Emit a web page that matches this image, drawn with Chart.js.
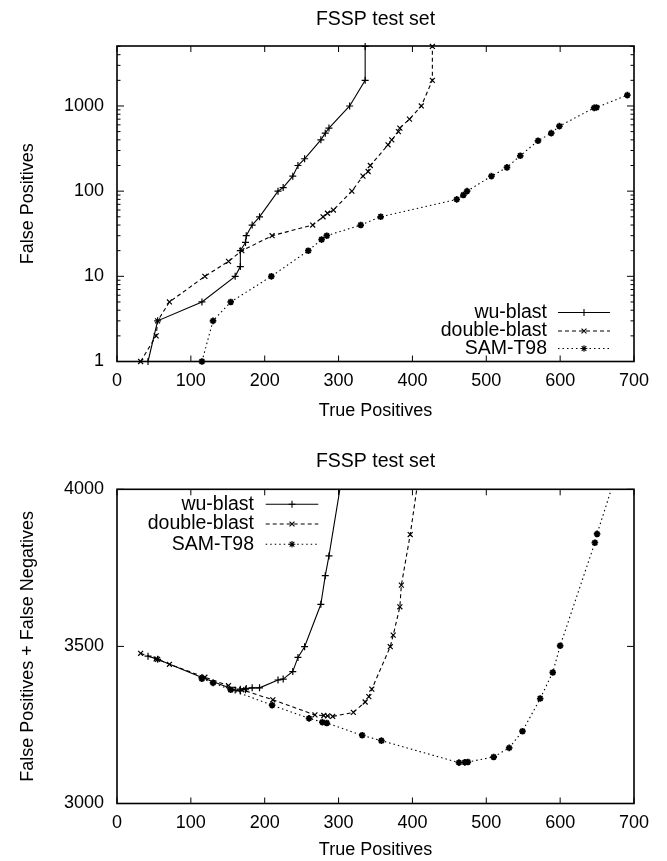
<!DOCTYPE html>
<html>
<head>
<meta charset="utf-8">
<script src="https://cdn.jsdelivr.net/npm/chart.js@4.4.0/dist/chart.umd.min.js"></script>
<style>
    html, body { margin: 0; padding: 0; background: #fff; }
    canvas { display: block; }
</style>
</head>
<body>
<canvas id="c-fp" width="667" height="430"></canvas>
<canvas id="c-err" width="667" height="431"></canvas>
<script>
/* ── Data: top panel (false positives, log scale) ── */
const wuTP  = [42, 55, 115, 160, 167, 167, 174, 175, 183, 193, 218, 225, 238, 245, 254, 276, 282, 287, 315, 336, 336];
const wuFP  = [1, 3, 5, 10, 13, 20, 25, 30, 40, 50, 100, 110, 150, 200, 240, 400, 480, 550, 1000, 2000, 5000];

const dbTP  = [32, 53, 55, 71, 119, 151, 169, 210, 265, 279, 285, 293, 318, 333, 340, 343, 367, 372, 381, 383, 396, 412, 427, 427];
const dbFP  = [1, 2, 3, 5, 10, 15, 20, 30, 40, 50, 55, 60, 100, 150, 170, 200, 350, 400, 500, 550, 700, 1000, 2000, 5000];

const samTP = [115, 130, 154, 209, 259, 277, 284, 330, 357, 460, 469, 474, 507, 528, 546, 570, 588, 599, 646, 649, 691];
const samFP = [1, 3, 5, 10, 20, 27, 30, 40, 50, 80, 90, 100, 150, 190, 260, 390, 480, 580, 950, 960, 1340];

/* ── Data: bottom panel (false positives + false negatives) ── */
const wuTP2  = [42, 55, 115, 160, 167, 167, 174, 175, 183, 193, 218, 225, 238, 245, 254, 276, 282, 287, 315];
const wuErr  = [3469, 3459, 3401, 3361, 3358, 3364, 3362, 3366, 3368, 3368, 3393, 3396, 3420, 3465, 3499, 3634, 3725, 3788, 4190];

const dbTP2  = [32, 53, 55, 71, 119, 151, 169, 211, 268, 280, 285, 292, 320, 336, 341, 345, 370, 374, 383, 385, 397, 412];
const dbErr  = [3478, 3460, 3459, 3443, 3402, 3375, 3362, 3330, 3282, 3280, 3279, 3277, 3290, 3323, 3340, 3364, 3499, 3536, 3626, 3695, 3856, 4100];

const samTP2 = [115, 130, 154, 210, 260, 278, 284, 332, 358, 463, 471, 475, 510, 531, 549, 573, 590, 600, 647, 650, 691];
const samErr = [3397, 3384, 3362, 3313, 3271, 3259, 3256, 3217, 3200, 3130, 3131, 3132, 3148, 3177, 3230, 3334, 3417, 3502, 3830, 3858, 4160];

const seriesNames = ['wu-blast', 'double-blast', 'SAM-T98'];
const yLabelsTop  = [1, 10, 100, 1000];
const yLabelsBot  = [3000, 3500, 4000];

/* ── Style ── */
const FONT = '"Liberation Sans", Arial, Helvetica, sans-serif';
Chart.defaults.font.family = FONT;
Chart.defaults.font.size = 18;
Chart.defaults.color = '#000';

const STYLE = [
    { borderDash: [],       pointStyle: 'cross',    pointRadius: 3.5, pointBorderWidth: 1.2 },
    { borderDash: [4, 3],   pointStyle: 'crossRot', pointRadius: 3.5, pointBorderWidth: 1.2 },
    { borderDash: [1.5, 3], pointStyle: 'star',     pointRadius: 3.3, pointBorderWidth: 1.8 }
];

function pts(xs, ys) {
    return xs.map((x, i) => ({ x, y: ys[i] }));
}

function makeSets(list, clip) {
    return list.map((data, i) => ({
        label: seriesNames[i],
        data,
        borderColor: '#000',
        backgroundColor: '#000',
        pointBorderColor: '#000',
        pointBackgroundColor: '#000',
        borderWidth: 1.1,
        tension: 0,
        fill: false,
        clip,
        ...STYLE[i]
    }));
}

function isLogMinor(v) {
    const m = v / Math.pow(10, Math.floor(Math.log10(v) + 1e-9));
    return Math.abs(m - Math.round(m)) < 1e-6;
}

/* ── gnuplot-like frame with inward ticks on all four sides ── */
const gnuFrame = {
    id: 'gnuFrame',
    beforeDatasetsDraw(chart) {
        const { ctx, chartArea: a, scales: { x, y } } = chart;
        ctx.save();
        ctx.strokeStyle = '#000';
        ctx.lineWidth = 1;
        ctx.beginPath();
        x.ticks.forEach(t => {
            const px = x.getPixelForValue(t.value);
            ctx.moveTo(px, a.bottom); ctx.lineTo(px, a.bottom - 6);
            ctx.moveTo(px, a.top);    ctx.lineTo(px, a.top + 6);
        });
        const log = y.type === 'logarithmic';
        y.ticks.forEach(t => {
            if (log && !isLogMinor(t.value)) return;
            const major = !log || yLabelsTop.includes(t.value);
            const len = major ? 7 : 3.5;
            const py = y.getPixelForValue(t.value);
            ctx.moveTo(a.left, py);  ctx.lineTo(a.left + len, py);
            ctx.moveTo(a.right, py); ctx.lineTo(a.right - len, py);
        });
        ctx.stroke();
        ctx.lineWidth = 1.6;
        ctx.strokeRect(a.left, a.top, a.width, a.height);
        ctx.restore();
    }
};

/* ── gnuplot-like key: right-aligned text, sample line to its right ── */
function gnuKey(cfg) {
    return {
        id: 'gnuKey',
        afterDatasetsDraw(chart) {
            const { ctx, chartArea: a } = chart;
            const bx = cfg.fromRight ? a.right : a.left;
            const by = cfg.fromBottom ? a.bottom : a.top;
            ctx.save();
            ctx.font = '19.5px ' + FONT;
            ctx.fillStyle = '#000';
            ctx.strokeStyle = '#000';
            ctx.textAlign = 'right';
            ctx.textBaseline = 'middle';
            chart.data.datasets.forEach((ds, i) => {
                const yy = by + cfg.rows[i];
                ctx.fillText(ds.label, bx + cfg.text, yy);
                ctx.lineWidth = ds.borderWidth;
                ctx.setLineDash(ds.borderDash);
                ctx.beginPath();
                ctx.moveTo(bx + cfg.from, yy);
                ctx.lineTo(bx + cfg.to, yy);
                ctx.stroke();
                ctx.setLineDash([]);
                Chart.helpers.drawPoint(ctx, {
                    pointStyle: ds.pointStyle,
                    radius: ds.pointRadius,
                    borderWidth: ds.pointBorderWidth,
                    rotation: 0
                }, bx + (cfg.from + cfg.to) / 2, yy);
            });
            ctx.restore();
        }
    };
}

function axes(yOpts, yTitle, xHeight) {
    return {
        x: {
            type: 'linear', min: 0, max: 700,
            ticks: { stepSize: 100, padding: 9, callback: v => String(v) },
            grid: { display: false, drawTicks: false },
            border: { display: false },
            title: { display: true, text: 'True Positives', padding: { top: 0, bottom: 0 } },
            afterFit: s => { s.height = xHeight; }
        },
        y: Object.assign({
            grid: { display: false, drawTicks: false },
            border: { display: false },
            title: { display: true, text: yTitle, padding: { top: 17, bottom: 0 } },
            afterFit: s => { s.width = 117; }
        }, yOpts)
    };
}

function titleOpts(top, bottom) {
    return {
        display: true, text: 'FSSP test set', fullSize: false,
        font: { size: 19.5, weight: 'normal' }, color: '#000',
        padding: { top, bottom }
    };
}

/* ── Top: false positives ── */
new Chart(document.getElementById('c-fp'), {
    type: 'line',
    data: { datasets: makeSets([pts(wuTP, wuFP), pts(dbTP, dbFP), pts(samTP, samFP)], false) },
    options: {
        responsive: false,
        animation: false,
        layout: { padding: { left: 0, right: 33, top: 0, bottom: 8.5 } },
        plugins: {
            legend: { display: false },
            tooltip: { enabled: false },
            title: titleOpts(8.3, 14.3)
        },
        scales: axes({
            type: 'logarithmic', min: 1, max: 5060,
            ticks: { autoSkip: false, padding: 13, callback: v => yLabelsTop.includes(v) ? String(v) : '' }
        }, 'False Positives', 60)
    },
    plugins: [gnuFrame, gnuKey({ fromRight: true, fromBottom: true, text: -87, from: -76, to: -24, rows: [-49, -30.5, -13] })]
});

/* ── Bottom: false positives + false negatives ── */
new Chart(document.getElementById('c-err'), {
    type: 'line',
    data: { datasets: makeSets([pts(wuTP2, wuErr), pts(dbTP2, dbErr), pts(samTP2, samErr)], undefined) },
    options: {
        responsive: false,
        animation: false,
        layout: { padding: { left: 0, right: 33, top: 0, bottom: 0 } },
        plugins: {
            legend: { display: false },
            tooltip: { enabled: false },
            title: titleOpts(20, 15.9)
        },
        scales: axes({
            type: 'linear', min: 3000, max: 4000,
            ticks: { stepSize: 500, padding: 13, callback: v => yLabelsBot.includes(v) ? String(v) : '' }
        }, 'False Positives + False Negatives', 57.5)
    },
    plugins: [gnuFrame, gnuKey({ fromRight: false, fromBottom: false, text: 137, from: 148.7, to: 201.3, rows: [15, 34.7, 55] })]
});
</script>
</body>
</html>
